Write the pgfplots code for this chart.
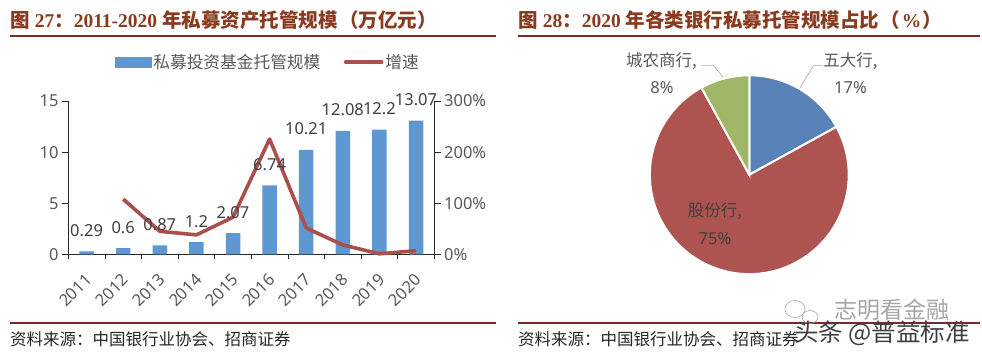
\documentclass[border=0pt]{standalone}
\usepackage{pgfplots}
\usepackage{fontspec}
\pgfplotsset{compat=1.18}
\setmainfont{Noto Sans}
\newfontfamily\cjk{Noto Sans CJK SC}
\newfontfamily\tnr{Liberation Serif}
\definecolor{titlec}{HTML}{8A3A1E}
\definecolor{rulec}{HTML}{7A2A24}
\definecolor{barc}{HTML}{5F97D1}
\definecolor{linec}{HTML}{A9504A}
\definecolor{tickc}{HTML}{595959}
\definecolor{labc}{HTML}{404040}
\definecolor{pieb}{HTML}{5882B8}
\definecolor{pier}{HTML}{AE5450}
\definecolor{pieg}{HTML}{9FB766}
\newcommand{\ttl}[1]{{\cjk\bfseries #1}}
\newcommand{\tn}[1]{{\tnr\bfseries\fontsize{19.5pt}{22pt}\selectfont #1}}
\pgfplotstableread{
x  v     lab
1  0.29  0.29
2  0.6   0.6
3  0.87  0.87
4  1.2   1.2
5  2.07  2.07
6  6.74  6.74
7  10.21 10.21
8  12.08 12.08
9  12.2  12.2
10 13.07 13.07
}\bars
\pgfplotstableread{
x  g
2  108
3  45
4  38
5  72.5
6  225.6
7  51.5
8  18.3
9  1
10 7.1
}\growth
\pgfplotsset{
  base/.style={
    scale only axis, width=366pt, height=153.3pt,
    at={(68.3pt,99.7pt)}, anchor=south west,
    xmin=0.5, xmax=10.5, clip=false,
    /pgf/number format/assume math mode=true,
    tick label style={font=\fontsize{16.5pt}{18pt}\selectfont, text=tickc},
    axis line style={black!85, line width=0.8pt},
    tick style={black!85, line width=0.8pt},
  }
}
\begin{document}
\begin{tikzpicture}[x=1pt,y=1pt]
\path[use as bounding box] (0,0) rectangle (982,354);
% rules
\draw[rulec, line width=2pt] (10,318.3) -- (496,318.3);
\draw[rulec, line width=2pt] (518,318.3) -- (980,318.3);
\draw[rulec, line width=2pt] (10,30.7) -- (496,30.7);
\draw[rulec, line width=2pt] (518,30.7) -- (980,30.7);
% titles
\node[anchor=base west, inner sep=0, text=titlec, font=\fontsize{19.5pt}{22pt}\selectfont] at (10,326.5)
  {\ttl{图} \tn{27}\ttl{：}\tn{2011-2020} \ttl{年私募资产托管规模\hspace{1.5pt}（万亿元）}};
\node[anchor=base west, inner sep=0, text=titlec, font=\fontsize{19.5pt}{22pt}\selectfont] at (518,326.5)
  {\ttl{图} \tn{28}\ttl{：}\tn{2020} \ttl{年各类银行私募托管规模占比\hspace{1.5pt}（}\tn{\hspace{1.5pt}\%\hspace{1.5pt}}\ttl{）}};
% sources
\node[anchor=base west, inner sep=0, text=black!85, font=\fontsize{16.5pt}{18pt}\selectfont\cjk] at (10,9) {资料来源：中国银行业协会、招商证券};
\node[anchor=base west, inner sep=0, text=black!85, font=\fontsize{16.5pt}{18pt}\selectfont\cjk] at (518,9) {资料来源：中国银行业协会、招商证券};
% bars
\begin{axis}[base,
  axis x line*=bottom, axis y line*=left,
  ymin=0, ymax=15, ytick={0,5,10,15},
  xtick={1,...,10},
  xticklabels={2011,2012,2013,2014,2015,2016,2017,2018,2019,2020},
  minor xtick={0.5,1.5,...,10.5},
  major x tick style={draw=none},
  tick align=outside, major tick length=6.3pt, minor tick length=5pt,
  xticklabel style={rotate=45, anchor=north east, xshift=-6.5pt, yshift=-3.6pt},
  ybar, bar width=14.5pt,
]
\addplot[draw=none, fill=barc] table[x=x,y=v] {\bars};
\end{axis}
% growth line
\begin{axis}[base,
  axis x line=none, axis y line*=right,
  ymin=0, ymax=300, ytick={0,100,200,300},
  yticklabels={0\%,100\%,200\%,300\%},
  tick align=outside, major tick length=6.3pt,
]
\addplot[linec, line width=3.6pt, line join=round] table[x=x,y=g] {\growth};
\end{axis}
% data labels and legend
\begin{axis}[base, hide axis, ymin=0, ymax=15,
  legend columns=2,
  legend style={draw=none, fill=none, at={(0.1276,1.318)}, anchor=north west,
    font=\fontsize{16.7pt}{18pt}\selectfont\cjk, text=tickc,
    /tikz/every even column/.style={column sep=21.5pt},
    inner sep=0pt, outer sep=0pt},
]
\addlegendimage{legend image code/.code={\fill[barc] (0pt,-5pt) rectangle (36pt,5pt);}}
\addlegendentry{私募投资基金托管规模}
\addlegendimage{legend image code/.code={\draw[linec, line width=3.6pt, line cap=round] (0pt,0pt) -- (36pt,0pt);}}
\addlegendentry{增速}
\addplot[draw=none, fill=none, mark=none, forget plot,
  nodes near coords, point meta=explicit symbolic,
  every node near coord/.style={font=\fontsize{16.5pt}{18pt}\selectfont, text=labc, anchor=base, yshift=15pt, inner sep=0pt, /pgf/number format/assume math mode=true},
] table[x=x,y=v,meta=lab] {\bars};
\end{axis}
% pie
\begin{axis}[hide axis, scale only axis, width=200pt, height=200pt,
  at={(749.3pt,179.3pt)}, anchor=center,
  xmin=-100, xmax=100, ymin=-100, ymax=100, clip=false]
\addplot[draw=none, forget plot] coordinates {(-98.6,-98.6) (98.6,98.6)};
\fill[pieb, draw=white, line width=2pt] (axis cs:0,0) -- ++(90:99.4pt) arc[start angle=90, delta angle=-3.6*17, radius=99.4pt] -- cycle;
\fill[pier, draw=white, line width=2pt] (axis cs:0,0) -- ++(28.8:99.4pt) arc[start angle=28.8, delta angle=-3.6*75, radius=99.4pt] -- cycle;
\fill[pieg, draw=white, line width=2pt] (axis cs:0,0) -- ++(118.8:99.4pt) arc[start angle=118.8, delta angle=-3.6*8, radius=99.4pt] -- cycle;
\end{axis}
% pie labels
\begin{scope}[every node/.style={inner sep=0pt, font=\fontsize{16.5pt}{18pt}\selectfont, text=tickc}]
\draw[black!35, line width=0.6pt] (823,288.4) -- (813.5,288.4) -- (800,266.3);
\draw[black!35, line width=0.6pt] (701.5,288.4) -- (713.5,288.4) -- (723.3,276.7);
\node at (850.5,293) {\cjk 五大行,};
\node at (850.5,266) {17\%};
\node at (661.5,293) {\cjk 城农商行,};
\node at (662,266) {8\%};
\node[text=labc] at (715,143) {\cjk 股份行,};
\node[text=labc] at (715,115) {75\%};
\end{scope}
% watermark
\node[inner sep=0, text=black!35, font=\fontsize{23pt}{24pt}\selectfont\cjk] at (892,44) {志明看金融};
\draw[black!35, line width=0.6pt] (795,45) ellipse (10 and 8.5);
\draw[black!35, line width=0.6pt] (810,37) ellipse (8 and 6.5);
\node[inner sep=0, text=black!75, font=\fontsize{24.5pt}{25pt}\selectfont\cjk] at (882,21) {头条 @普益标准};
\end{tikzpicture}
\end{document}
